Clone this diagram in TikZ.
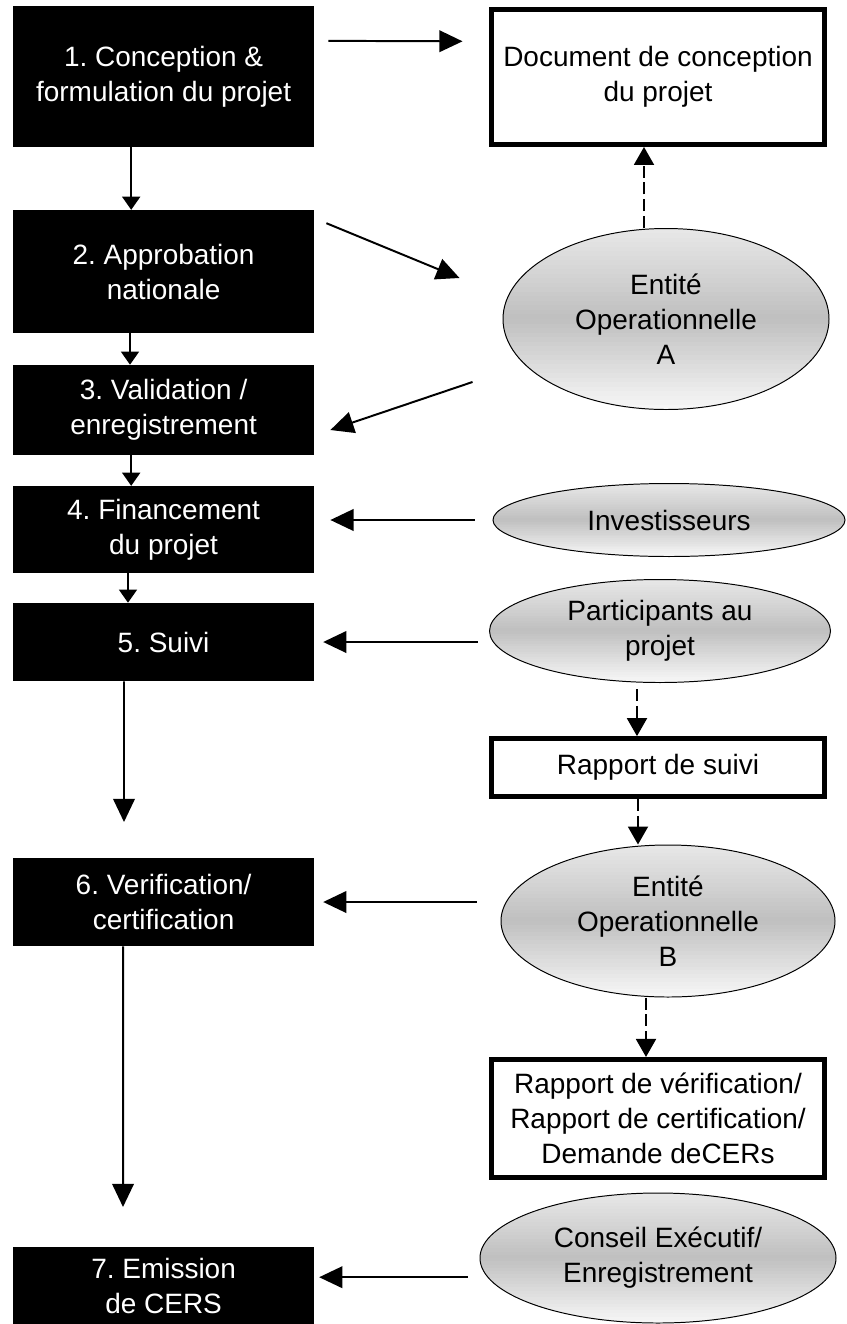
\documentclass[tikz,border=0pt]{standalone}
\usepackage{fontspec}
\setmainfont{Liberation Sans}
\frenchspacing
\usepackage{tikz}
\usetikzlibrary{shapes.geometric, arrows.meta, calc}

\begin{document}
\begin{tikzpicture}[
                stage/.style={rectangle, fill=black, text=white, minimum width=7.525cm, inner sep=0pt, align=center, font=\fontsize{19.9}{24.9}\selectfont},
                report/.style={rectangle, draw, line width=3.5pt, minimum width=8.33cm, inner sep=0pt, align=center, font=\fontsize{19.9}{24.9}\selectfont},
                actor/.style={ellipse, draw, line width=0.7pt, inner sep=0pt, align=center, font=\fontsize{19.9}{24.9}\selectfont,
                    path picture={
                        \foreach \i in {0,...,39} {
                            \pgfmathsetmacro\t{(\i+0.5)/40}
                            \pgfmathsetmacro\k{\t<0.5 ? 9+32*\t : 25-44*(\t-0.5)}
                            \fill[black!\k] ($(path picture bounding box.north west)!{\i/40}!(path picture bounding box.south west)$) rectangle ($(path picture bounding box.north east)!{(\i+1.2)/40}!(path picture bounding box.south east)$);
                        }
                    }},
                arr/.style={line width=1.4pt, -{Triangle[length=0.58cm, width=0.54cm]}},
                shortarr/.style={line width=1.4pt, -{Triangle[length=0.33cm, width=0.45cm]}},
                dasharr/.style={line width=1.4pt, dash pattern=on 0.3cm off 0.12cm, -{Triangle[length=0.45cm, width=0.5cm]}}
            ]
                \useasboundingbox (0,0) rectangle (21.15,-33.1);

                \node[stage, minimum height=3.525cm] (b1) at (4.09,-1.91) {1. Conception \&\\formulation du projet};
                \node[stage, minimum height=3.075cm] (b2) at (4.09,-6.79) {2. Approbation\\nationale};
                \node[stage, minimum height=2.25cm] (b3) at (4.09,-10.25) {3. Validation /\\enregistrement};
                \node[stage, minimum height=2.175cm] (b4) at (4.09,-13.24) {4. Financement\\du projet};
                \node[stage, minimum height=1.95cm] (b5) at (4.09,-16.05) {5. Suivi};
                \node[stage, minimum height=2.2cm] (b6) at (4.09,-22.55) {6. Verification/\\certification};
                \node[stage, minimum height=1.925cm] (b7) at (4.09,-32.14) {7. Emission\\de CERS};

                \node[report, minimum height=3.375cm] (doc) at (16.45,-1.925) {Document de conception\\du projet};
                \node[report, minimum height=1.45cm] (rs) at (16.45,-19.19) {Rapport de suivi};
                \node[report, minimum height=2.95cm] (rv) at (16.45,-27.96) {Rapport de vérification/\\Rapport de certification/\\Demande deCERs};

                \node[actor, minimum width=8.15cm, minimum height=4.525cm] (entA) at (16.65,-7.975) {Entité\\Operationnelle\\A};
                \node[actor, minimum width=8.8cm, minimum height=1.825cm] (inv) at (16.725,-13.0) {Investisseurs};
                \node[actor, minimum width=8.525cm, minimum height=2.575cm] (part) at (16.5,-15.775) {Participants au\\projet};
                \node[actor, minimum width=8.35cm, minimum height=3.8cm] (entB) at (16.7,-23.025) {Entité\\Operationnelle\\B};
                \node[actor, minimum width=8.9cm, minimum height=3.25cm] (con) at (16.45,-31.45) {Conseil Exécutif/\\Enregistrement};

                \coordinate (end5) at (3.1,-20.55);
                \coordinate (end6) at (3.075,-30.175);
                \coordinate (in7) at ([yshift=0.21cm]b7.east);

                \draw[arr, shorten <=0.35cm, shorten >=0.66cm] ([yshift=0.89cm]b1.east) -- ([yshift=0.89cm]doc.west);
                \draw[shortarr] ([xshift=-0.81cm]b1.south) -- ([xshift=-0.81cm]b2.north);
                \draw[arr] ([shift={(0.3,1.21)}]b2.east) -- ([shift={(-1.075,1.025)}]entA.west);
                \draw[dasharr] ([xshift=-0.55cm]entA.north) -- ([xshift=-0.35cm]doc.south);
                \draw[arr] ([shift={(-0.75,-1.575)}]entA.west) -- ([shift={(0.4,-0.5)}]b3.east);
                \draw[shortarr] ([xshift=-0.84cm]b2.south) -- ([xshift=-0.84cm]b3.north);
                \draw[shortarr] ([xshift=-0.81cm]b3.south) -- ([xshift=-0.81cm]b4.north);
                \draw[arr, shorten <=0.45cm, shorten >=0.4cm] (inv.west) -- (inv.west -| b4.east);
                \draw[shortarr] ([xshift=-0.89cm]b4.south) -- ([xshift=-0.89cm]b5.north);
                \draw[arr, shorten <=0.28cm, shorten >=0.22cm] (part.west |- b5.east) -- (b5.east);
                \draw[arr] ([xshift=-0.99cm]b5.south) -- (end5);
                \draw[dasharr, shorten <=0.15cm] ([xshift=-0.575cm]part.south) -- ([xshift=-0.525cm]rs.north);
                \draw[dasharr] ([xshift=-0.5cm]rs.south) -- ([xshift=-0.75cm]entB.north);
                \draw[arr, shorten <=0.6cm, shorten >=0.22cm] (entB.west |- b6.east) -- (b6.east);
                \draw[arr] ([xshift=-1.01cm]b6.south) -- (end6);
                \draw[dasharr] ([xshift=-0.55cm]entB.south) -- ([xshift=-0.3cm]rv.north);
                \draw[arr, shorten <=0.3cm, shorten >=0.12cm] (in7 -| con.west) -- (in7);
            \end{tikzpicture}
\end{document}
